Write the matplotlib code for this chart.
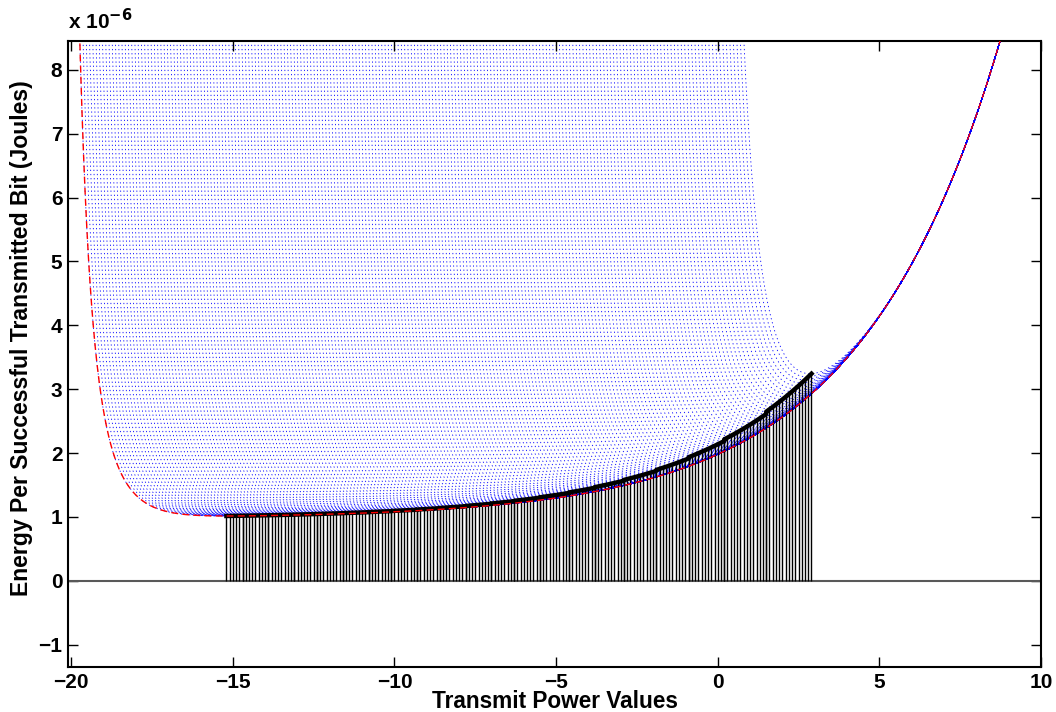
import numpy as np
import matplotlib
matplotlib.use("Agg")
import matplotlib.pyplot as plt
from matplotlib.ticker import FixedLocator, FuncFormatter

# Transmit power axis (dBm): fine sampling for drawing, 0.1 dB grid for the optimum search
POWER_FINE_DBM = np.arange(-20.1, 10.001, 0.01)
POWER_GRID_DBM = np.round(np.arange(-20.0, 10.0001, 0.1), 1)

# Energy model: E = (TX_SCALE * P_mW + CIRCUIT) / PSR, PSR = (1 - BER)^L
TX_SCALE_UJ = 1.0        # micro-joules per bit per mW of radiated power
CIRCUIT_UJ = 0.98        # fixed circuit energy per bit (micro-joules)
PACKET_BITS = 6224
SNR_GAIN = 2573.0        # received SNR per mW at zero extra attenuation
BER_EXPONENT = 0.6
# extra channel attenuation swept across the family of curves (dB)
ATTENUATION_DB = np.round(np.arange(0.0, 20.15, 0.1), 1)

X_TICKS = [-20, -15, -10, -5, 0, 5, 10]
Y_TICKS = [-1, 0, 1, 2, 3, 4, 5, 6, 7, 8]
X_LABEL = "Transmit Power Values"
Y_LABEL = "Energy Per Successful Transmitted Bit (Joules)"


def energy_per_bit(p_dbm, att_db):
    p_mw = 10.0 ** (p_dbm / 10.0)
    snr = SNR_GAIN * 10.0 ** ((p_dbm - att_db) / 10.0)
    ber = 0.5 * np.exp(-snr ** BER_EXPONENT)
    psr = np.exp(PACKET_BITS * np.log1p(-ber))
    e = (TX_SCALE_UJ * p_mw + CIRCUIT_UJ) / np.maximum(psr, 1e-300)
    return np.minimum(e, 30.0) * 1e-6


plt.rcParams["font.family"] = ["Liberation Sans", "DejaVu Sans"]
plt.rcParams["font.weight"] = "bold"

fig = plt.figure(figsize=(10.56, 7.12), dpi=100)
ax = fig.add_axes([0.0644, 0.0632, 0.9214, 0.8792])

# family of energy curves
for att in ATTENUATION_DB:
    ax.plot(POWER_FINE_DBM, energy_per_bit(POWER_FINE_DBM, att),
            color=(0, 0, 1), lw=0.6, ls=(0, (1.5, 3.5)), zorder=1)

# optimum transmit power of every curve
opt_x, opt_e = [], []
for att in ATTENUATION_DB:
    e = energy_per_bit(POWER_GRID_DBM, att)
    i = int(np.argmin(e))
    opt_x.append(POWER_GRID_DBM[i])
    opt_e.append(e[i])
opt_x = np.array(opt_x)
opt_e = np.array(opt_e)

ax.axhline(0, color=(0.35, 0.35, 0.35), lw=1.5, zorder=2)
ax.vlines(opt_x, 0, opt_e, color="k", lw=1.0, zorder=3)
ax.plot(opt_x, opt_e, color="k", lw=3.2, zorder=4)

# no-attenuation reference curve
ax.plot(POWER_FINE_DBM, energy_per_bit(POWER_FINE_DBM, ATTENUATION_DB[0]),
        color="r", lw=1.0, ls=(0, (5, 3)), zorder=5)

ax.set_xlim(-20.1, 10)
ax.set_ylim(-1.35e-6, 8.45e-6)
ax.xaxis.set_major_locator(FixedLocator(X_TICKS))
ax.yaxis.set_major_locator(FixedLocator([v * 1e-6 for v in Y_TICKS]))
ax.yaxis.set_major_formatter(FuncFormatter(lambda v, p: f"{round(v * 1e6):d}".replace("-", "\u2212")))
ax.xaxis.set_major_formatter(FuncFormatter(lambda v, p: f"{round(v):d}".replace("-", "\u2212")))
ax.tick_params(direction="in", length=7, width=1.0, top=True, right=True,
               labelsize=15, pad=4)
for lbl in ax.get_xticklabels() + ax.get_yticklabels():
    lbl.set_fontweight("bold")
for s in ax.spines.values():
    s.set_linewidth(1.5)

ax.set_xlabel(X_LABEL, fontsize=16.3, fontweight="bold", labelpad=-1)
ax.set_ylabel(Y_LABEL, fontsize=16.6, fontweight="bold")
ax.yaxis.set_label_coords(-0.036, 0.526)
ax.text(0.0, 1.012, "x 10$^{\\mathbf{-6}}$", transform=ax.transAxes,
        fontsize=15, fontweight="bold", ha="left", va="bottom")

fig.savefig("out.png", dpi=100)
